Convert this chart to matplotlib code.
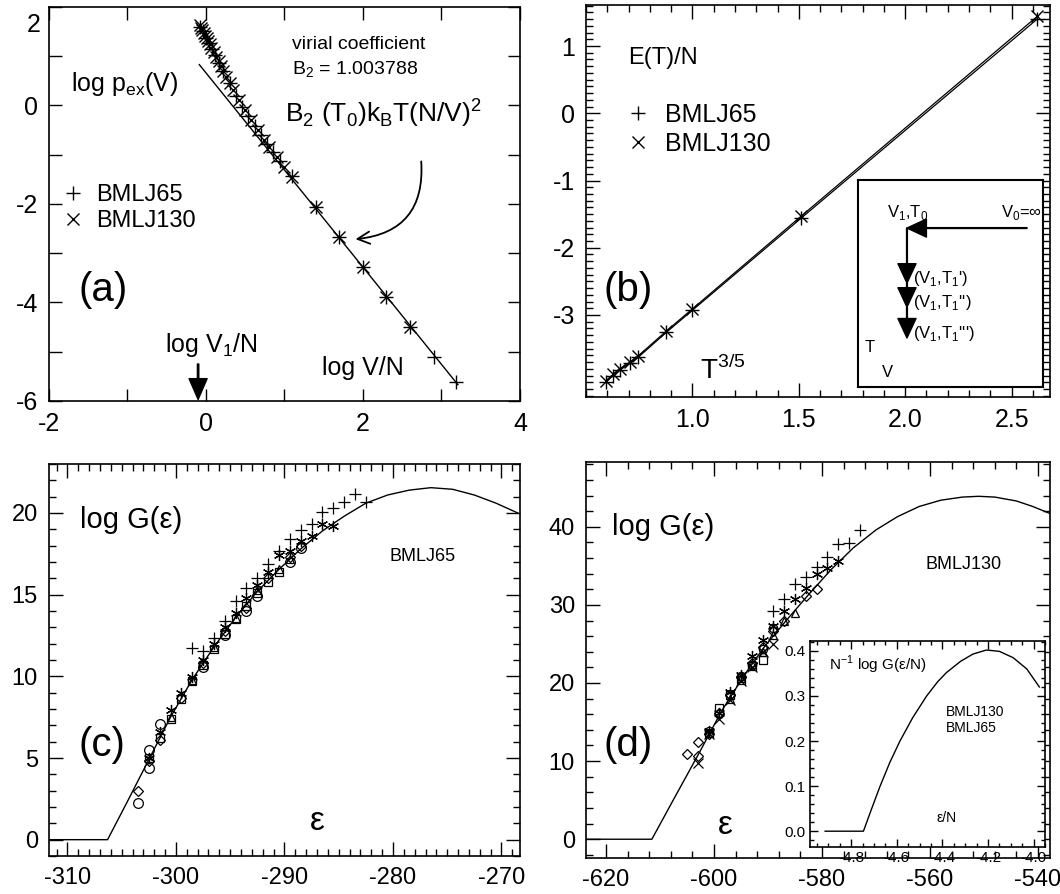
import numpy as np
import matplotlib
matplotlib.use('Agg')
import matplotlib.pyplot as plt
from matplotlib.ticker import MultipleLocator, FormatStrFormatter

plt.rcParams['font.family'] = ['Liberation Sans', 'DejaVu Sans']
plt.rcParams['mathtext.fontset'] = 'custom'
plt.rcParams['mathtext.rm'] = 'Liberation Sans'
plt.rcParams['axes.unicode_minus'] = False
plt.rcParams['axes.linewidth'] = 1.2

# ---- panel (a): excess pressure vs volume
line_a_x = [-0.085, 3.21]
line_a_y = [0.83, -5.67]
bm65_a_x = [-0.07, -0.04, 0.0, 0.04, 0.08, 0.12, 0.17, 0.22, 0.3, 0.38, 0.46, 0.54,
            0.62, 0.7, 0.78, 0.86, 0.94, 1.1, 1.4, 1.7, 2.0, 2.3, 2.6, 2.9, 3.18]
bm65_a_y = [1.6, 1.52, 1.38, 1.27, 1.14, 1.02, 0.86, 0.7, 0.45, 0.2, -0.03, -0.22,
            -0.41, -0.6, -0.78, -0.95, -1.12, -1.44, -2.06, -2.68, -3.27, -3.88, -4.5, -5.1, -5.62]
bm130_a_x = [-0.08, -0.06, -0.05, -0.03, -0.01, 0.01, 0.03, 0.05, 0.07, 0.1, 0.13, 0.16,
             0.19, 0.22, 0.26, 0.3, 0.35, 0.42, 0.5, 0.58, 0.66, 0.74, 0.8, 0.9, 1.0,
             1.1, 1.4, 1.7, 2.0, 2.3, 2.6]
bm130_a_y = [1.63, 1.58, 1.54, 1.48, 1.42, 1.36, 1.3, 1.24, 1.17, 1.08, 0.99, 0.9,
             0.8, 0.7, 0.58, 0.45, 0.32, 0.12, -0.1, -0.3, -0.5, -0.7, -0.84, -1.04, -1.25,
             -1.45, -2.06, -2.67, -3.27, -3.88, -4.49]

# ---- panel (b): energy vs T^(3/5)
t_b = [0.593, 0.628, 0.659, 0.706, 0.745, 0.877, 1.0, 1.511, 2.62]
e65_b = [-4.0, -3.9, -3.82, -3.72, -3.63, -3.26, -2.93, -1.56, 1.40]
e130_b = [-3.98, -3.88, -3.80, -3.70, -3.61, -3.24, -2.91, -1.53, 1.44]

# ---- panel (c): log G for BMLJ65
curve_c_eps = [-311.7, -306.3, -304.5, -302.5, -300.5, -298.5, -296.5, -294.5, -292.5,
               -290.5, -288.5, -286.5, -284.5, -282.5, -280.5, -278.5, -276.5, -274.5,
               -272.5, -270.5, -268.5]
curve_c_val = [0, 0, 2.3, 4.9, 7.5, 9.8, 11.8, 13.6, 15.2, 16.55, 17.8, 18.9, 19.8, 20.6,
               21.1, 21.4, 21.55, 21.45, 21.1, 20.6, 20.0]
plus_c_eps = [-298.5, -297.5, -296.5, -295.5, -294.5, -293.5, -292.5, -291.5, -290.5,
              -289.5, -288.5, -287.5, -286.5, -285.5, -284.5, -283.5, -282.5]
plus_c_val = [11.74, 11.53, 12.35, 13.37, 14.6, 15.41, 16.03, 16.88, 17.65, 18.41, 18.98,
              19.33, 20.07, 20.31, 20.65, 21.17, 20.68]
star_c_eps = [-302.5, -301.5, -300.5, -299.5, -298.5, -297.5, -296.5, -295.5, -294.5,
              -293.5, -292.5, -291.5, -290.5, -289.5, -288.5, -287.5, -286.5, -285.5]
star_c_val = [5.0, 6.6, 7.96, 9.0, 9.95, 11.0, 12.0, 13.0, 13.9, 14.8, 15.6, 16.4, 17.45,
              17.65, 18.3, 18.6, 19.35, 19.2]
square_c_eps = [-302.5, -301.5, -300.5, -299.5, -298.5, -297.5, -296.5, -295.5, -294.5,
                -293.5, -292.5, -291.5, -290.5]
square_c_val = [5.0, 6.2, 7.4, 8.6, 9.7, 10.7, 11.7, 12.6, 13.5, 14.3, 15.1, 15.8, 16.4]
tri_c_eps = [-300.5, -298.5, -296.5, -294.5, -292.5, -290.5, -289.5]
tri_c_val = [7.5, 9.8, 11.8, 13.6, 15.3, 16.6, 17.2]
circ_c_eps = [-303.5, -302.5, -302.5, -301.5, -297.5, -295.5, -293.5, -292.5, -289.5, -288.5]
circ_c_val = [2.25, 5.5, 4.4, 7.08, 10.6, 12.5, 14.0, 14.9, 17.0, 17.86]
diam_c_eps = [-303.5, -302.5, -301.5, -299.5, -297.5, -295.5, -293.5, -291.5, -289.5, -288.5]
diam_c_val = [2.96, 4.8, 6.1, 8.7, 10.8, 12.8, 14.2, 16.0, 17.3, 18.0]

# ---- panel (d): log G for BMLJ130
curve_d_eps = [-623.7, -611.5, -607, -602.7, -598.6, -594.3, -590.6, -586.5, -582.5,
               -578.2, -574.2, -570, -566, -562, -558, -554, -551, -548, -544, -541, -537.8]
curve_d_val = [0, 0, 5.7, 11.1, 16.4, 21.1, 24.7, 28.1, 31.3, 34.6, 37.3, 39.6, 41.3,
               42.6, 43.4, 43.8, 43.9, 43.8, 43.3, 42.6, 41.7]
plus_d_eps = [-589, -587, -585, -583, -581, -579, -577, -575, -573]
plus_d_val = [29.2, 30.8, 32.7, 33.6, 34.9, 36.1, 37.8, 37.9, 39.6]
star_d_eps = [-601, -599, -597, -595, -593, -591, -589, -587, -585, -583, -581, -579, -577]
star_d_val = [13.8, 16.1, 18.9, 21.0, 23.4, 25.5, 27.3, 29.2, 30.7, 32.1, 33.9, 34.7, 35.6]
square_d_eps = [-601, -599, -597, -595, -593, -591]
square_d_val = [13.6, 16.8, 18.4, 20.4, 22.2, 22.9]
tri_d_eps = [-597, -595, -593, -591, -589, -587, -585]
tri_d_val = [18.0, 20.6, 22.4, 24.0, 26.1, 28.0, 29.0]
diam_d_eps = [-605, -603, -603, -601, -599, -597, -595, -593, -591, -589, -587, -583, -581]
diam_d_val = [10.9, 12.4, 10.6, 13.5, 16.2, 18.5, 20.8, 22.6, 24.6, 26.7, 28.0, 31.2, 32.0]
cross_d_eps = [-603, -601, -599, -597, -595, -593, -591, -589]
cross_d_val = [9.7, 13.5, 15.4, 17.8, 20.2, 22.0, 24.0, 25.0]
circ_d_eps = [-601, -599, -597, -595, -593, -591, -589]
circ_d_val = [13.8, 16.0, 18.6, 20.9, 22.3, 24.3, 27.0]

# inset of (d): N^-1 log G(eps/N)
ins_x = [-4.914, -4.746, -4.71, -4.673, -4.63, -4.586, -4.53, -4.469, -4.42, -4.382,
         -4.32, -4.266, -4.207, -4.15, -4.09, -4.03, -3.975]
ins_y = [0, 0, 0.05, 0.1, 0.153, 0.2, 0.252, 0.3, 0.332, 0.352, 0.377, 0.393, 0.402,
         0.399, 0.385, 0.36, 0.32]


def style(ax, xmaj, xmin_, ymaj, ymin_, majlen=9, minlen=4.5, size=18):
    ax.xaxis.set_major_locator(MultipleLocator(xmaj))
    ax.xaxis.set_minor_locator(MultipleLocator(xmin_))
    ax.yaxis.set_major_locator(MultipleLocator(ymaj))
    ax.yaxis.set_minor_locator(MultipleLocator(ymin_))
    ax.tick_params(which='both', direction='in', top=True, right=True, width=1)
    ax.tick_params(which='major', length=majlen, labelsize=size, pad=8)
    ax.tick_params(which='minor', length=minlen)


fig = plt.figure(figsize=(10.6, 8.94), dpi=100)

# ================= (a)
ax = fig.add_axes([0.0462, 0.5515, 0.4443, 0.4407])
ax.plot(line_a_x, line_a_y, color='k', lw=1)
ax.plot(bm65_a_x, bm65_a_y, ls='none', marker='+', ms=10, mew=1, color='k', label='BMLJ65')
ax.plot(bm130_a_x, bm130_a_y, ls='none', marker='x', ms=8, mew=1, color='k', label='BMLJ130')
ax.set_xlim(-2, 4)
ax.set_ylim(-6, 2)
style(ax, 2, 1, 2, 1, majlen=9, minlen=9)
ax.set_yticks([-6, -4, -2, 0, 2], ['-6', '-4', '-2', '0', ''])
ax.annotate('2', xy=(0, 2), xycoords=('axes fraction', 'data'), xytext=(-6, -4),
            textcoords='offset points', ha='right', va='top', fontsize=18)
ax.legend(loc='upper left', bbox_to_anchor=(0.03, 0.55), frameon=False, fontsize=17,
          handlelength=0.8, handletextpad=0.6, labelspacing=0.15, borderaxespad=0, borderpad=0)
ax.text(0.516, 0.904, 'virial coefficient', transform=ax.transAxes, fontsize=14, va='center')
ax.text(0.516, 0.84, 'B$_\\mathregular{2}$ = 1.003788', transform=ax.transAxes, fontsize=14, va='center')
ax.text(0.501, 0.731, 'B$_\\mathregular{2}$ (T$_\\mathregular{0}$)k$_\\mathregular{B}$T(N/V)$^\\mathregular{2}$',
        transform=ax.transAxes, fontsize=19, va='center')
ax.text(0.047, 0.805, 'log p$_\\mathregular{ex}$(V)', transform=ax.transAxes, fontsize=18, va='center')
ax.text(0.062, 0.282, '(a)', transform=ax.transAxes, fontsize=29, va='center')
ax.text(0.246, 0.142, 'log V$_\\mathregular{1}$/N', transform=ax.transAxes, fontsize=18, va='center')
ax.text(0.58, 0.084, 'log V/N', transform=ax.transAxes, fontsize=18, va='center')
ax.annotate('', xy=(1.87, -2.72), xytext=(2.74, -1.08),
            arrowprops=dict(arrowstyle='->', connectionstyle='arc3,rad=-0.5', lw=1.3,
                            color='k', mutation_scale=22))
ax.annotate('', xy=(-0.1, -5.97), xytext=(-0.1, -5.25),
            arrowprops=dict(facecolor='k', edgecolor='k', width=1, headwidth=13,
                            headlength=15, shrink=0))

# ================= (b)
ax = fig.add_axes([0.5528, 0.5559, 0.4377, 0.4385])
ax.plot(t_b, e65_b, color='k', lw=0.9)
ax.plot(t_b, e130_b, color='k', lw=0.9)
ax.plot(t_b, e65_b, ls='none', marker='+', ms=10, mew=1, color='k', label='BMLJ65')
ax.plot(t_b, e130_b, ls='none', marker='x', ms=8, mew=1, color='k', label='BMLJ130')
ax.set_xlim(0.5, 2.68)
ax.set_ylim(-4.22, 1.61)
style(ax, 0.5, 0.1, 1, 0.1, majlen=10, minlen=5)
ax.set_xticks([1.0, 1.5, 2.0, 2.5])
ax.set_yticks([-3, -2, -1, 0, 1])
ax.xaxis.set_major_formatter(FormatStrFormatter('%.1f'))
ax.legend(loc='upper left', bbox_to_anchor=(0.09, 0.75), frameon=False, fontsize=18,
          handlelength=0.8, handletextpad=0.7, labelspacing=0.2, borderaxespad=0, borderpad=0)
ax.text(0.09, 0.865, 'E(T)/N', transform=ax.transAxes, fontsize=17, va='center')
ax.text(0.037, 0.273, '(b)', transform=ax.transAxes, fontsize=29, va='center')
ax.text(0.246, 0.069, 'T$^\\mathregular{3/5}$', transform=ax.transAxes, fontsize=20, va='center')

# inset diagram in (b)
ib = fig.add_axes([0.8094, 0.5671, 0.1745, 0.2315])
ib.set_xlim(0, 1)
ib.set_ylim(0, 1)
ib.set_xticks([])
ib.set_yticks([])
for s in ib.spines.values():
    s.set_linewidth(1.5)
head = dict(facecolor='k', edgecolor='k', width=0.6, headwidth=13, headlength=14, shrink=0)
ib.annotate('', xy=(0.265, 0.768), xytext=(0.914, 0.768), arrowprops=head)
ib.annotate('', xy=(0.265, 0.502), xytext=(0.265, 0.768), arrowprops=head)
ib.annotate('', xy=(0.265, 0.386), xytext=(0.265, 0.502), arrowprops=head)
ib.annotate('', xy=(0.265, 0.237), xytext=(0.265, 0.386), arrowprops=head)
ib.text(0.27, 0.845, 'V$_\\mathregular{1}$,T$_\\mathregular{0}$', fontsize=12, ha='center', va='center')
ib.text(0.995, 0.845, 'V$_\\mathregular{0}$=∞', fontsize=12, ha='right', va='center')
ib.text(0.30, 0.525, "(V$_\\mathregular{1}$,T$_\\mathregular{1}$')", fontsize=12, va='center')
ib.text(0.30, 0.41, "(V$_\\mathregular{1}$,T$_\\mathregular{1}$'')", fontsize=12, va='center')
ib.text(0.30, 0.26, "(V$_\\mathregular{1}$,T$_\\mathregular{1}$''')", fontsize=12, va='center')
ib.text(0.065, 0.193, 'T', fontsize=12, ha='center', va='center')
ib.text(0.16, 0.072, 'V', fontsize=12, ha='center', va='center')

# ================= (c)
star = (6, 2, 0)
mk = dict(ls='none', color='k', mfc='none', mew=0.9)
ax = fig.add_axes([0.0462, 0.0425, 0.4443, 0.4385])
ax.plot(curve_c_eps, curve_c_val, color='k', lw=1)
ax.plot(square_c_eps, square_c_val, marker='s', ms=6, **mk)
ax.plot(tri_c_eps, tri_c_val, marker='^', ms=6, **mk)
ax.plot(circ_c_eps, circ_c_val, marker='o', ms=7, **mk)
ax.plot(diam_c_eps, diam_c_val, marker='D', ms=5, **mk)
ax.plot(star_c_eps, star_c_val, marker=star, ms=8, **mk)
ax.plot(plus_c_eps, plus_c_val, marker='+', ms=8, **mk)
ax.set_xlim(-311.7, -268.3)
ax.set_ylim(-1.0, 23.0)
style(ax, 10, 1, 5, 1, majlen=10, minlen=5, size=17)
ax.text(0.066, 0.857, 'log G(ε)', transform=ax.transAxes, fontsize=21, va='center')
ax.text(0.724, 0.763, 'BMLJ65', transform=ax.transAxes, fontsize=13, va='center')
ax.text(0.062, 0.283, '(c)', transform=ax.transAxes, fontsize=29, va='center')
ax.text(0.569, 0.087, 'ε', transform=ax.transAxes, fontsize=24, ha='center', va='center')

# ================= (d)
ax = fig.add_axes([0.5528, 0.0403, 0.4377, 0.443])
ax.plot(curve_d_eps, curve_d_val, color='k', lw=1)
ax.plot(square_d_eps, square_d_val, marker='s', ms=6, **mk)
ax.plot(tri_d_eps, tri_d_val, marker='^', ms=6, **mk)
ax.plot(circ_d_eps, circ_d_val, marker='o', ms=6, **mk)
ax.plot(diam_d_eps, diam_d_val, marker='D', ms=5, **mk)
ax.plot(cross_d_eps, cross_d_val, marker='x', ms=7, **mk)
ax.plot(star_d_eps, star_d_val, marker=star, ms=8, **mk)
ax.plot(plus_d_eps, plus_d_val, marker='+', ms=8, **mk)
ax.set_xlim(-623.7, -537.8)
ax.set_ylim(-2.4, 48.3)
style(ax, 20, 4, 10, 2, majlen=10, minlen=5, size=17)
ax.text(0.056, 0.836, 'log G(ε)', transform=ax.transAxes, fontsize=21, va='center')
ax.text(0.731, 0.74, 'BMLJ130', transform=ax.transAxes, fontsize=13, va='center')
ax.text(0.037, 0.285, '(d)', transform=ax.transAxes, fontsize=29, va='center')
ax.text(0.30, 0.083, 'ε', transform=ax.transAxes, fontsize=24, ha='center', va='center')

# inset of (d)
ax2 = fig.add_axes([0.7642, 0.0526, 0.2217, 0.2304])
ax2.plot(ins_x, ins_y, color='k', lw=1)
ax2.set_xlim(-4.98, -3.95)
ax2.set_ylim(-0.035, 0.422)
style(ax2, 0.2, 0.05, 0.1, 0.02, majlen=6, minlen=3, size=11)
ax2.tick_params(pad=3)
ax2.xaxis.set_major_formatter(FormatStrFormatter('%.1f'))
ax2.yaxis.set_major_formatter(FormatStrFormatter('%.1f'))
ax2.text(0.08, 0.883, 'N$^\\mathregular{-1}$ log G(ε/N)', transform=ax2.transAxes, fontsize=11, va='center')
ax2.text(0.58, 0.657, 'BMLJ130', transform=ax2.transAxes, fontsize=10, va='center')
ax2.text(0.58, 0.576, 'BMLJ65', transform=ax2.transAxes, fontsize=10, va='center')
ax2.text(0.54, 0.139, 'ε/N', transform=ax2.transAxes, fontsize=10, va='center')

fig.savefig('out.png', dpi=100)
